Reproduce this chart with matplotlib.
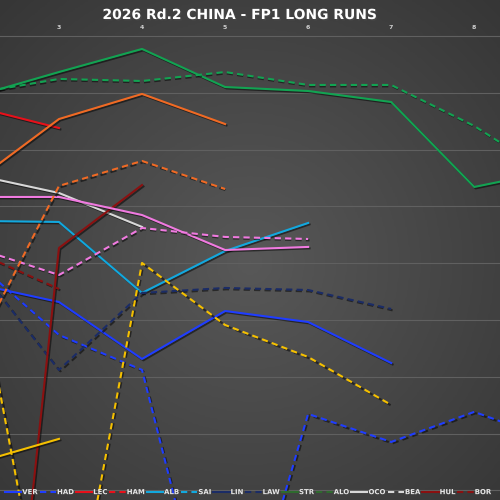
import numpy as np
import matplotlib
matplotlib.use("Agg")
import matplotlib.pyplot as plt
import matplotlib.patheffects as pe
from matplotlib.lines import Line2D

# ---- data (lap number -> lap time, s) ----
laps = [2, 3, 4, 5, 6, 7, 8, 9]

VER = [96.183, 96.342, 96.843, 96.421, 96.518, 96.879]
HAD = [95.989, 96.632, 96.940, 99.827, 97.327, 97.574, 97.309, 97.574]
LEC = [94.625, 94.810]
HAM = []
ALB = [95.628, 95.637, 96.262, 95.893, 95.646]
SAI = []
LIN = []
LAW = [96.016, 96.940, 96.262, 96.218, 96.236, 96.403]
STR = [94.528, 94.317, 94.114, 94.449, 94.484, 94.581, 95.329, 95.179]
ALO = [94.502, 94.378, 94.396, 94.317, 94.431, 94.431, 94.792, 95.259]
OCO = [95.224, 95.382, 95.681]
BEA = []
HUL = [102.662, 95.866, 95.312]
BOR = [95.901, 96.227]
GAS = [95.417, 95.417, 95.576, 95.884, 95.857]
COL = [95.866, 96.104, 95.690, 95.769, 95.787]
NOR = [95.276, 94.731, 94.510, 94.775]
PIA = [96.755, 95.320, 95.100, 95.347]
PER = [97.759, 97.547]
BOT = [96.016, 99.889, 95.998, 96.544, 96.826, 97.248]

drivers = ["VER", "HAD", "LEC", "HAM", "ALB", "SAI", "LIN", "LAW", "STR", "ALO",
           "OCO", "BEA", "HUL", "BOR", "GAS", "COL", "NOR", "PIA", "PER", "BOT"]
series = [VER, HAD, LEC, HAM, ALB, SAI, LIN, LAW, STR, ALO,
          OCO, BEA, HUL, BOR, GAS, COL, NOR, PIA, PER, BOT]
legend_drivers = drivers[:14]

colors = ["#1f3dff", "#1f3dff", "#e8101a", "#e8101a", "#12a8de", "#12a8de",
          "#1b2c66", "#1b2c66", "#12a352", "#12a352", "#d8d8d8", "#d8d8d8",
          "#8b1010", "#8b1010", "#f07ae0", "#f07ae0", "#f06a24", "#f06a24",
          "#f5c000", "#f5c000"]
legend_colors = ["#1f3dff", "#1f3dff", "#e8101a", "#e8101a", "#12a8de", "#12a8de",
                 "#1b2c66", "#1b2c66", "#2e6b2e", "#2e6b2e", "#d8d8d8", "#d8d8d8",
                 "#8b1010", "#8b1010"]
styles = ["-", "--"] * 10

fig = plt.figure(figsize=(5, 5), dpi=100)
fig.patch.set_facecolor("#444444")

# radial background
bg = fig.add_axes([0, 0, 1, 1], zorder=0)
yy, xx = np.mgrid[-1:1:300j, -1:1:300j]
r = np.sqrt(xx ** 2 + (yy - 0.05) ** 2)
bg.imshow(-r, cmap=matplotlib.colors.LinearSegmentedColormap.from_list(
    "bgc", ["#363636", "#585858"]), extent=[0, 1, 0, 1], aspect="auto")
bg.axis("off")

ax = fig.add_axes([0, 0, 1, 1 - 35 / 500], zorder=1)
ax.patch.set_alpha(0)
for sp in ax.spines.values():
    sp.set_visible(False)

shadow = [pe.SimpleLineShadow(offset=(1.0, -1.0), shadow_color="black", alpha=0.5),
          pe.Normal()]
for name, vals, c, ls in zip(drivers, series, colors, styles):
    ax.plot(laps[:len(vals)], vals, color=c, ls=ls, lw=1.5, label=name,
            path_effects=shadow, dashes=(3, 2) if ls == "--" else (None, None))

ax.set_xlim(2.29, 8.31)
ax.set_ylim(98.085, 93.991)
ax.set_yticks(np.arange(94.0, 98.1, 0.5))
ax.yaxis.grid(True, color="#606060", lw=0.8)
ax.set_axisbelow(True)
ax.tick_params(axis="y", left=False, labelleft=False)
ax.xaxis.tick_top()
ax.set_xticks([3, 4, 5, 6, 7, 8])
ax.tick_params(axis="x", top=False, length=0, pad=3.5, labelsize=4.5,
               labelcolor="#d0d0d0")
for t in ax.get_xticklabels():
    t.set_fontweight("bold")

handles = [Line2D([], [], color=c, ls=ls, lw=1.5,
                  dashes=(3, 2) if ls == "--" else (None, None))
           for c, ls in zip(legend_colors, styles)]
leg = ax.legend(handles, legend_drivers, ncol=len(legend_drivers), loc="lower left",
                bbox_to_anchor=(0.0, 0.0), frameon=False, handlelength=2.35,
                handletextpad=0.15, columnspacing=0.28, borderaxespad=0.5,
                borderpad=0.2, prop={"size": 5, "weight": "bold"})
for t in leg.get_texts():
    t.set_color("#e6e6e6")
    t.set_path_effects([pe.withSimplePatchShadow(offset=(0.6, -0.6), alpha=0.6)])

fig.text(0.48, 1 - 15 / 500, "2026 Rd.2 CHINA - FP1 LONG RUNS", ha="center",
         va="center", color="white", fontsize=10, fontweight="bold",
         path_effects=[pe.withSimplePatchShadow(offset=(1, -1), alpha=0.6)])

fig.savefig("out.png", dpi=100, facecolor=fig.get_facecolor())
